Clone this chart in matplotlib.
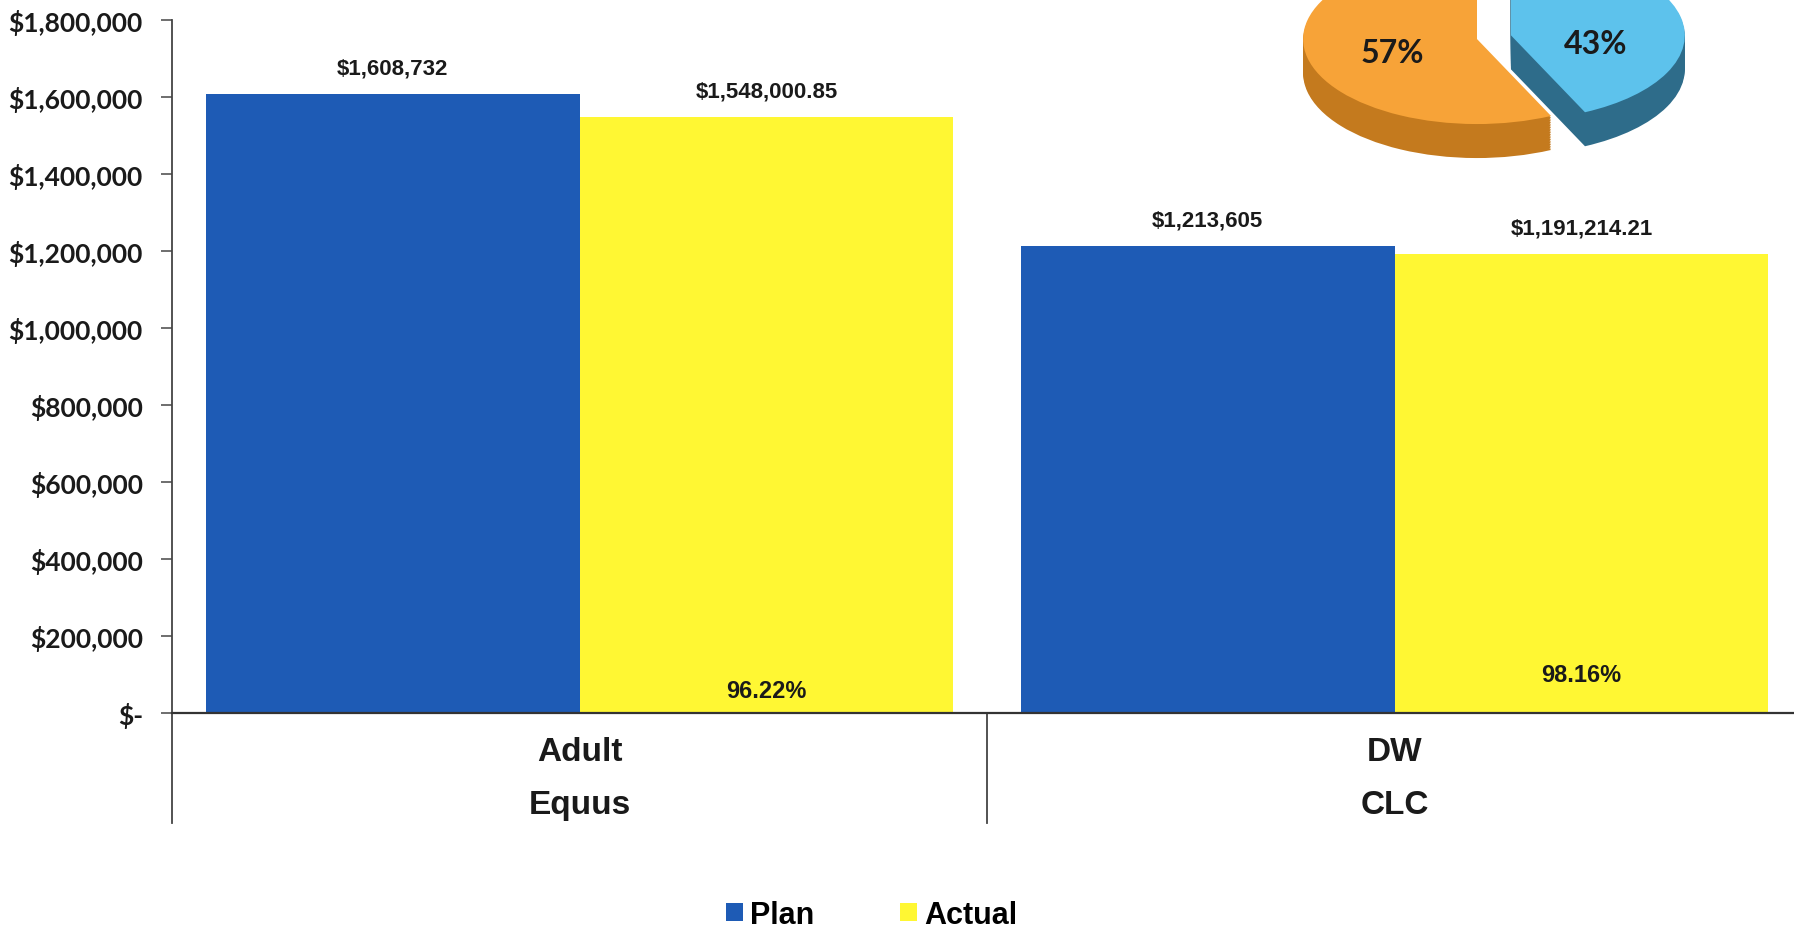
"""
Plan vs Actual spending by program, with a provider split pie
"""
import matplotlib
matplotlib.use("Agg")
import numpy as np
import matplotlib.pyplot as plt
import matplotlib.transforms as mtransforms
from matplotlib.ticker import FuncFormatter

# data
programs = ["Adult", "DW"]
providers = ["Equus", "CLC"]
plan = [1608732, 1213605]
actual = [1548000.85, 1191214.21]
plan_labels = ["$1,608,732", "$1,213,605"]
actual_labels = ["$1,548,000.85", "$1,191,214.21"]
pct_spent = [96.22, 98.16]
series_names = ["Plan", "Actual"]
y_ticks = [0, 200000, 400000, 600000, 800000, 1000000, 1200000, 1400000, 1600000, 1800000]
pie_values = [57, 43]

BLUE = "#1E5BB5"
YELLOW = "#FFF733"
NARROW = ["Liberation Sans Narrow", "Liberation Sans"]
SANS = ["Liberation Sans", "DejaVu Sans"]
CALI = ["Lato", "DejaVu Sans"]


def money(v, pos=None):
    if v == 0:
        return "$-"
    return "${:,.0f}".format(v)


fig = plt.figure(figsize=(17.94, 9.29), dpi=100)
ax = fig.add_axes([0.0959, 0.2314, 0.9041, 0.746])

x = np.arange(len(programs))
width = 0.4586
bars_plan = ax.bar(x - width / 2, plan, width, color=BLUE, label=series_names[0])
bars_act = ax.bar(x + width / 2, actual, width, color=YELLOW, label=series_names[1])

ax.set_xlim(-0.5, 1.49)
ax.set_ylim(0, 1800000)
ax.set_yticks(y_ticks)
ax.yaxis.set_major_formatter(FuncFormatter(money))
ax.set_xticks([])
for lab in ax.get_yticklabels():
    lab.set_fontfamily(CALI)
    lab.set_fontweight("bold")
    lab.set_fontsize(19)
    lab.set_color("#1a1a1a")
ax.tick_params(axis="y", direction="out", length=8, width=1.2, color="#555555", pad=13)

for side in ["top", "right"]:
    ax.spines[side].set_visible(False)
ax.spines["left"].set_color("#444444")
ax.spines["left"].set_linewidth(1.3)
ax.spines["bottom"].set_color("#333333")
ax.spines["bottom"].set_linewidth(1.6)

# value labels over bars
for rect, txt in zip(list(bars_plan) + list(bars_act), plan_labels + actual_labels):
    ax.annotate(txt, (rect.get_x() + rect.get_width() / 2, rect.get_height()),
                xytext=(0, 18.7), textcoords="offset points", ha="center", va="center",
                fontsize=16, fontweight="bold", family=NARROW, color="#1a1a1a")

# percent of plan spent, near the base of the actual bars
pct_offsets = [16, 28]
for rect, p, off in zip(bars_act, pct_spent, pct_offsets):
    ax.annotate("{:.2f}%".format(p), (rect.get_x() + rect.get_width() / 2, 0),
                xytext=(0, off), textcoords="offset points", ha="center", va="center",
                fontsize=17, fontweight="bold", family=SANS, color="#1a1a1a")

# two-level category labels under the axis
trans = mtransforms.blended_transform_factory(ax.transData, ax.transAxes)
for xi, prog, prov in zip(x, programs, providers):
    ax.annotate(prog, (xi, 0), xycoords=trans, xytext=(0, -27.4), textcoords="offset points",
                ha="center", va="center", fontsize=24, fontweight="bold", family=NARROW,
                color="#1a1a1a")
    ax.annotate(prov, (xi, 0), xycoords=trans, xytext=(0, -65.5), textcoords="offset points",
                ha="center", va="center", fontsize=24, fontweight="bold", family=NARROW,
                color="#1a1a1a")
for xs in [-0.5, 0.5]:
    ax.plot([xs, xs], [0, -0.159], transform=trans, clip_on=False, color="#444444", lw=1.3)

fig.legend(handles=[bars_plan, bars_act], labels=series_names, loc="center",
           bbox_to_anchor=(0.486, 0.014), ncol=2, frameon=False,
           prop={"family": SANS, "weight": "bold", "size": 22},
           handlelength=0.55, handleheight=0.55, handletextpad=0.25, columnspacing=2.8)

# tilted, exploded pie in the top right corner
pax = fig.add_axes([0.6973, 0.8105, 0.252, 0.1894])
explode = [0.0, 0.2]
depth = 0.4
steps = 20
for k in range(steps, 0, -1):
    d = depth * k / steps
    pax.pie(pie_values, colors=["#C47A1E", "#2E6C8A"], explode=explode, startangle=90,
            center=(0, -d), wedgeprops={"linewidth": 0})
wedges, texts, autotexts = pax.pie(pie_values, colors=["#F7A338", "#5DC2EC"], explode=explode,
                                   startangle=90, autopct="%d%%", pctdistance=0.5,
                                   wedgeprops={"linewidth": 0})
for t in autotexts:
    t.set_fontfamily(CALI)
    t.set_fontweight("bold")
    t.set_fontsize(23)
    t.set_color("#1a1a1a")
ox, oy = autotexts[0].get_position()
autotexts[0].set_position((ox, oy - 0.05))
bx, by = autotexts[1].get_position()
autotexts[1].set_position((bx, by - 0.2))
pax.set_aspect("auto")
pax.set_xlim(-1.3, 1.3)
pax.set_ylim(-1.6, 0.47)
pax.axis("off")

fig.savefig("out.png", dpi=100)
